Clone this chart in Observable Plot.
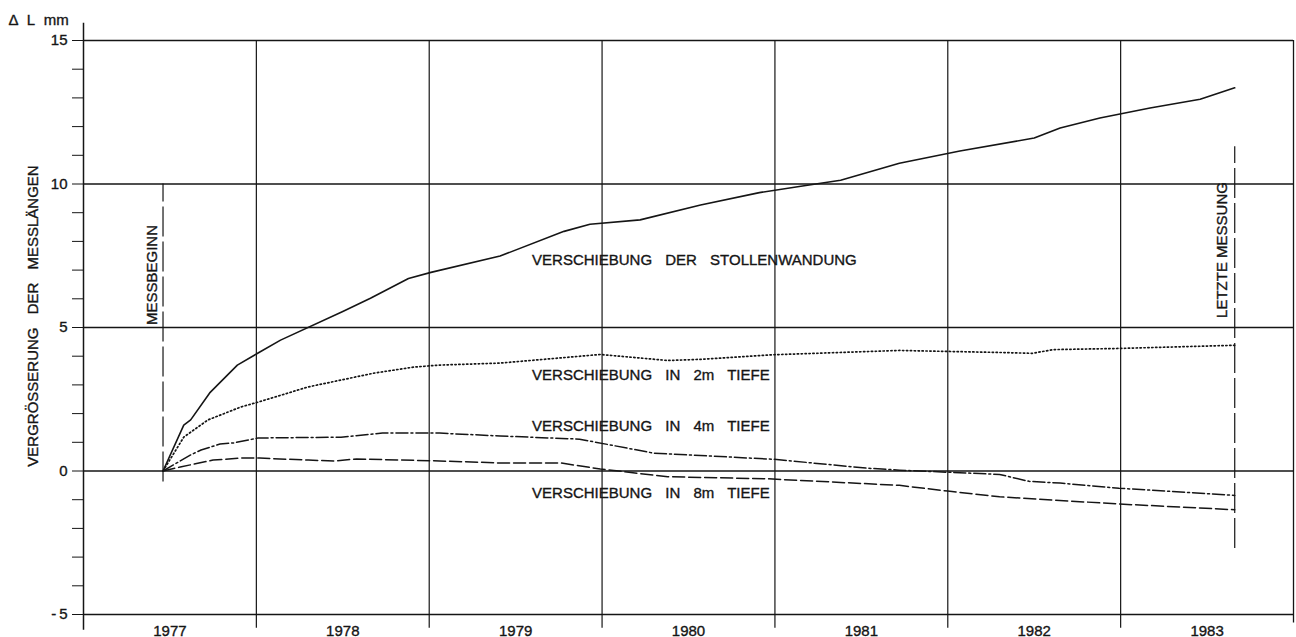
<!DOCTYPE html>
<html>
<head>
<meta charset="utf-8">
<script src="https://cdn.jsdelivr.net/npm/d3@7"></script>
<script src="https://cdn.jsdelivr.net/npm/@observablehq/plot@0.6"></script>
<style>
  html, body { margin: 0; padding: 0; background: #fff; }
  svg { display: block; }
  #chart svg text { font-size: 15px; stroke: #151515; stroke-width: 0.35px; }
</style>
</head>
<body>
<div id="chart"></div>
<script>
// ---- data (decimal year, ΔL in mm) ----
const years = [1977, 1978, 1979, 1980, 1981, 1982, 1983];
const yearLabels = ["1977", "1978", "1979", "1980", "1981", "1982", "1983"];
const yTicks = [-5, 0, 5, 10, 15];
const yTickLabels = ["-\u20095", "0", "5", "10", "15"];

const wall = [
  [1977.46, 0], [1977.58, 1.60], [1977.62, 1.78], [1977.73, 2.72], [1977.89, 3.69],
  [1978.01, 4.11], [1978.14, 4.56], [1978.50, 5.56], [1978.66, 6.02], [1978.88, 6.71],
  [1979.01, 6.92], [1979.41, 7.49], [1979.78, 8.35], [1979.93, 8.60], [1980.22, 8.75],
  [1980.57, 9.27], [1980.91, 9.70], [1981.15, 9.92], [1981.38, 10.13], [1981.72, 10.72],
  [1982.07, 11.15], [1982.50, 11.60], [1982.65, 11.95], [1982.88, 12.30], [1983.17, 12.65],
  [1983.46, 12.95], [1983.66, 13.35]
];
const depth2 = [
  [1977.46, 0], [1977.58, 1.18], [1977.72, 1.78], [1977.91, 2.23], [1978.01, 2.40],
  [1978.30, 2.93], [1978.68, 3.41], [1978.91, 3.62], [1979.06, 3.69], [1979.41, 3.76],
  [1979.99, 4.06], [1980.38, 3.85], [1980.57, 3.89], [1980.99, 4.05], [1981.72, 4.20],
  [1982.30, 4.13], [1982.49, 4.10], [1982.61, 4.23], [1982.99, 4.27], [1983.66, 4.38]
];
const depth4 = [
  [1977.46, 0], [1977.62, 0.56], [1977.68, 0.73], [1977.79, 0.94], [1977.87, 0.98],
  [1978.01, 1.15], [1978.49, 1.18], [1978.73, 1.32], [1979.06, 1.32], [1979.41, 1.22],
  [1979.87, 1.11], [1980.30, 0.62], [1980.99, 0.41], [1981.53, 0.10], [1981.72, 0.03],
  [1982.30, -0.12], [1982.47, -0.36], [1982.65, -0.42], [1982.99, -0.60], [1983.66, -0.85]
];
const depth8 = [
  [1977.46, 0], [1977.56, 0.14], [1977.75, 0.38], [1977.91, 0.45], [1978.02, 0.45],
  [1978.30, 0.38], [1978.45, 0.35], [1978.58, 0.42], [1979.06, 0.35], [1979.41, 0.28],
  [1979.76, 0.28], [1979.99, 0.07], [1980.38, -0.20], [1980.95, -0.27], [1981.72, -0.50],
  [1982.00, -0.70], [1982.30, -0.90], [1982.99, -1.15], [1983.66, -1.35]
];

const seriesLabels = [
  {text: "VERSCHIEBUNG DER STOLLENWANDUNG", t: 1979.595, v: 7.35},
  {text: "VERSCHIEBUNG IN 2m TIEFE", t: 1979.595, v: 3.34},
  {text: "VERSCHIEBUNG IN 4m TIEFE", t: 1979.595, v: 1.57},
  {text: "VERSCHIEBUNG IN 8m TIEFE", t: 1979.595, v: -0.77}
];
const startT = 1977.46, endT = 1983.66;

const ink = "#151515";
const fs = 15;
const plot = Plot.plot({
  width: 1296,
  height: 637,
  marginLeft: 83,
  marginRight: 3,
  marginTop: 40,
  marginBottom: 23,
  style: {fontFamily: "'Liberation Sans', Arial, sans-serif", fontSize: "15px", color: ink, background: "#fff", overflow: "visible"},
  x: {domain: [1977, 1984], axis: null},
  y: {domain: [-5, 15], axis: "left", ticks: d3.range(-5, 16), tickSize: 11, tickPadding: 5,
      tickFormat: d => { const i = yTicks.indexOf(d); return i >= 0 ? yTickLabels[i] : ""; }, label: null},
  marks: [
    // horizontal grid
    Plot.ruleY(yTicks, {x1: 1977, x2: 1984, stroke: ink, strokeWidth: 1.3}),
    // vertical year grid with ticks below
    Plot.ruleX(years.slice(1), {y1: -5.48, y2: 15, stroke: ink, strokeWidth: 1.2}),
    Plot.ruleX([1984], {y1: -5.3, y2: 15, stroke: ink, strokeWidth: 1.3}),
    Plot.ruleX([1977], {y1: -5.55, y2: 15.6, stroke: ink, strokeWidth: 1.5}),
    // year labels
    Plot.text(years, {x: d => d + 0.5, y: -5, dy: 17, text: (d, i) => yearLabels[i], fill: ink, fontSize: fs}),
    // measurement start / end
    Plot.ruleX([startT], {y1: -0.38, y2: 10, stroke: ink, strokeWidth: 1.2, strokeDasharray: "30,5"}),
    Plot.ruleX([endT], {y1: -2.7, y2: 11.3, stroke: ink, strokeWidth: 1.2, strokeDasharray: "30,5"}),
    Plot.text(["MESSBEGINN"], {x: startT, y: 6.83, dx: -11, rotate: -90, fill: ink, fontSize: fs}),
    Plot.text(["LETZTE MESSUNG"], {x: endT, y: 7.7, dx: -13, rotate: -90, fill: ink, fontSize: fs}),
    // curves
    Plot.line(wall, {x: d => d[0], y: d => d[1], stroke: ink, strokeWidth: 1.6}),
    Plot.line(depth2, {x: d => d[0], y: d => d[1], stroke: ink, strokeWidth: 1.7, strokeDasharray: "1.3,2.6"}),
    Plot.line(depth4, {x: d => d[0], y: d => d[1], stroke: ink, strokeWidth: 1.5, strokeDasharray: "12,3,2,3"}),
    Plot.line(depth8, {x: d => d[0], y: d => d[1], stroke: ink, strokeWidth: 1.5, strokeDasharray: "12,4"}),
    // curve labels
    Plot.text(seriesLabels, {x: "t", y: "v", text: "text", textAnchor: "start", fill: ink, fontSize: fs}),
    // y axis title and unit
    Plot.text(["VERGRÖSSERUNG DER MESSLÄNGEN"], {x: 1977, y: 5.4, dx: -50, rotate: -90, fill: ink, fontSize: fs}),
    Plot.text(["Δ L mm"], {x: 1977, y: 15, dx: -75, dy: -20, textAnchor: "start", fill: ink, fontSize: fs})
  ]
});
d3.select(plot).selectAll("text").each(function() {
  const t = this.textContent;
  if (/VERSCHIEBUNG|VERGR|Δ L/.test(t)) d3.select(this).style("word-spacing", t.startsWith("Δ") ? "5px" : "9px");
});
document.getElementById("chart").append(plot);
</script>
</body>
</html>
